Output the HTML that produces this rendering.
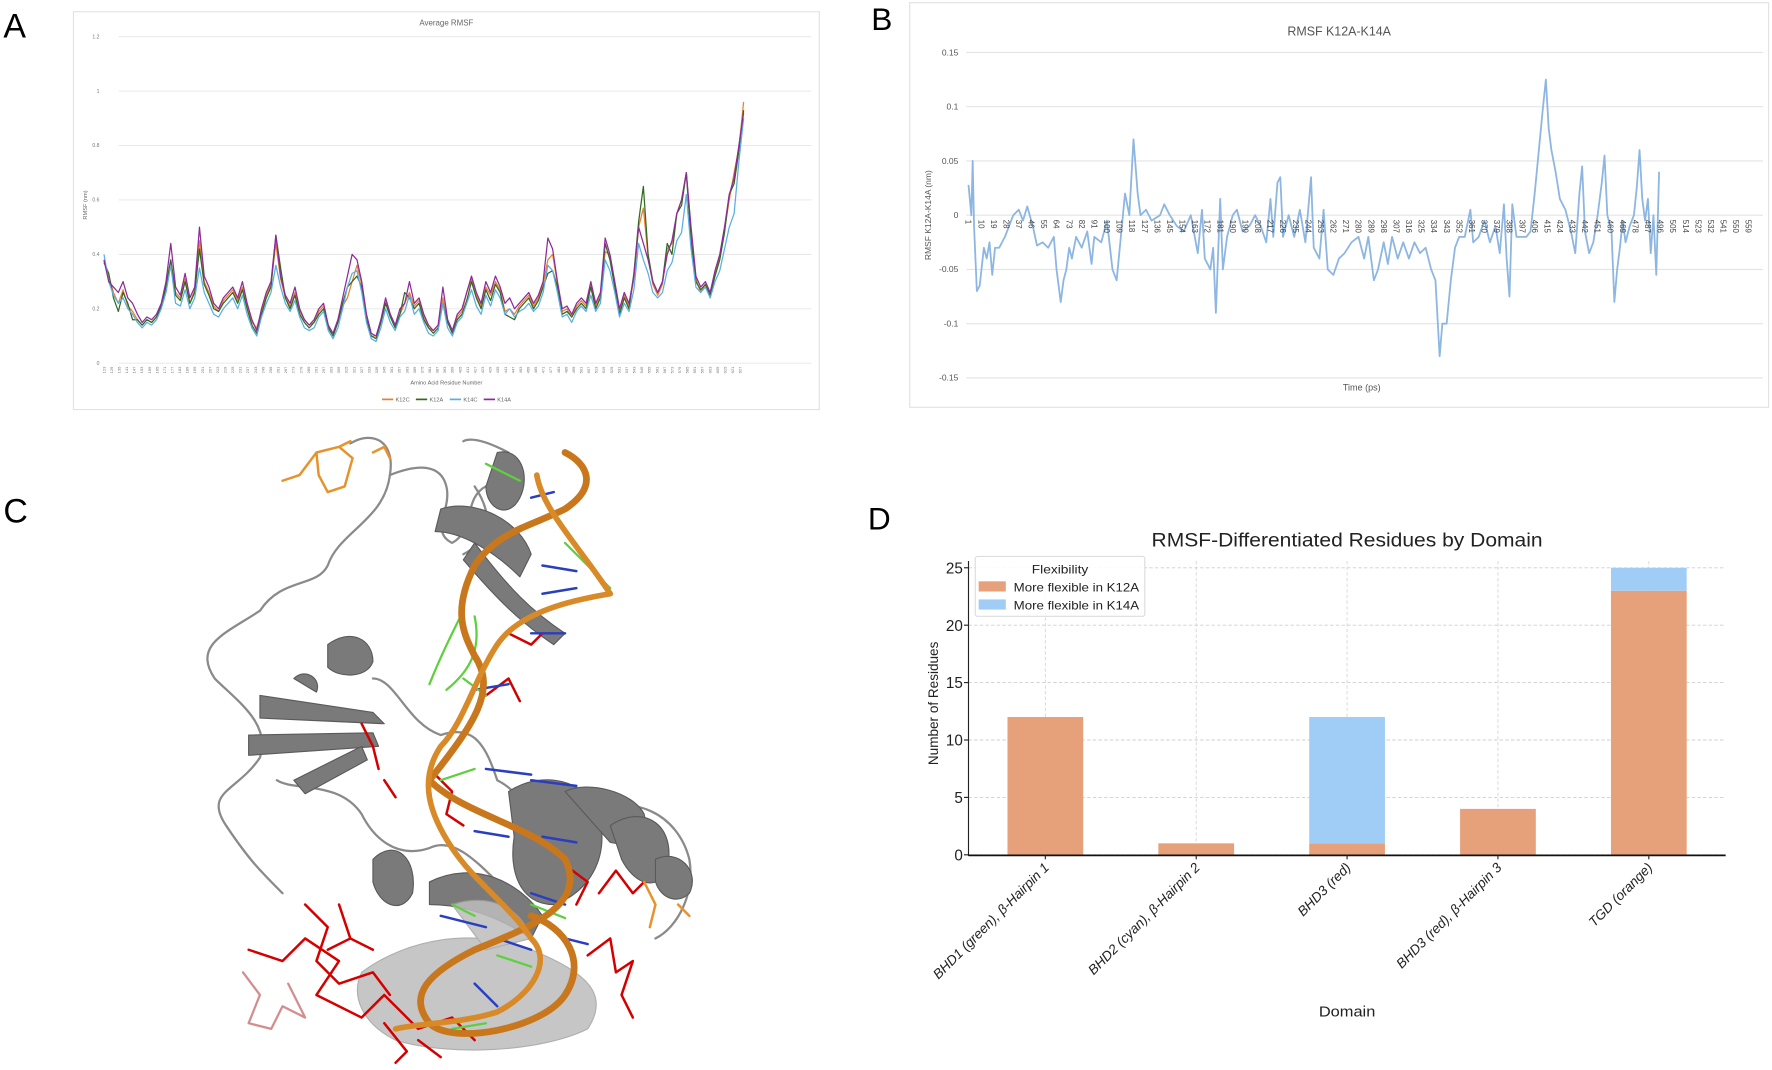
<!DOCTYPE html>
<html><head><meta charset="utf-8"><style>
html,body{margin:0;padding:0;background:#fff;}
svg{display:block;}
text{font-family:"Liberation Sans",sans-serif;}
</style></head><body>
<svg id="fig" width="1772" height="1070" viewBox="0 0 1568 946" xmlns="http://www.w3.org/2000/svg">
<rect width="1568" height="946" fill="#fff"/>
<text x="3" y="33" font-size="30">A</text>
<text x="771" y="26" font-size="28">B</text>
<text x="3" y="462" font-size="30">C</text>
<text x="768" y="468" font-size="28">D</text>

<g id="panelA">
<rect x="65" y="10" width="660" height="352" fill="#fff" stroke="#e2e2e2"/>
<text x="395" y="22" font-size="7" fill="#666" text-anchor="middle">Average RMSF</text>
<text transform="translate(77,181) rotate(-90)" font-size="5" fill="#666" text-anchor="middle">RMSF (nm)</text>
<text x="395" y="340" font-size="5" fill="#666" text-anchor="middle">Amino Acid Residue Number</text>
<g id="aGrid"></g><g id="aXt"></g><g id="aLines"></g>
<g font-size="5" fill="#666">
<line x1="338" y1="353" x2="348" y2="353" stroke="#ed7d31" stroke-width="1.5"/><text x="350" y="355">K12C</text>
<line x1="368" y1="353" x2="378" y2="353" stroke="#2e6b1f" stroke-width="1.5"/><text x="380" y="355">K12A</text>
<line x1="398" y1="353" x2="408" y2="353" stroke="#5aaee3" stroke-width="1.5"/><text x="410" y="355">K14C</text>
<line x1="428" y1="353" x2="438" y2="353" stroke="#8e2a9a" stroke-width="1.5"/><text x="440" y="355">K14A</text>
</g>
</g>

<g id="panelB">
<rect x="805" y="2" width="760" height="358" fill="#fff" stroke="#e2e2e2"/>
<text x="1185" y="31" font-size="11" fill="#555" text-anchor="middle">RMSF K12A-K14A</text>
<text transform="translate(824,190) rotate(-90)" font-size="7.5" fill="#555" text-anchor="middle">RMSF K12A-K14A (nm)</text>
<text x="1205" y="345" font-size="8" fill="#555" text-anchor="middle">Time (ps)</text>
<g id="bGrid"></g><g id="bLine"></g><g id="bXt"></g>
</g>

<g id="panelC" stroke-linecap="round" stroke-linejoin="round" fill="none">
<g stroke="#8a8a8a" stroke-width="2">
<path d="M310 392 C330 380 350 390 345 420 C340 460 300 470 290 500 C280 520 250 510 230 540 C200 560 170 570 190 600 C210 620 240 640 230 670 C210 700 180 700 200 730 C220 760 230 770 250 790"/>
<path d="M345 420 C370 410 390 410 395 430 C400 450 380 470 400 480 C420 470 410 440 430 430"/>
<path d="M330 600 C350 600 360 640 390 650 C420 640 430 660 440 690 C460 700 470 720 480 740"/>
<path d="M245 690 C260 700 300 690 320 720 C330 740 350 760 380 750 C400 740 420 760 440 780"/>
<path d="M410 390 C420 385 440 395 450 400 M420 430 C440 460 430 480 410 490"/>
<path d="M520 720 C560 700 600 720 610 760 C615 790 600 820 580 830"/>
</g>
<g fill="#7a7a7a" stroke="#5a5a5a" stroke-width="1">
<path d="M440 400 C460 395 470 420 460 440 C450 460 430 450 430 430 Z"/>
<path d="M390 450 C420 440 460 460 470 490 L460 510 C440 490 410 470 385 470 Z"/>
<path d="M420 480 C450 520 470 540 500 560 L490 570 C460 550 440 530 410 495 Z"/>
<path d="M230 615 L330 630 L340 640 L230 635 Z"/>
<path d="M220 650 L330 648 L335 660 L220 668 Z"/>
<path d="M260 690 L320 660 L325 672 L270 702 Z"/>
<path d="M290 570 C310 555 330 565 330 585 C325 600 300 600 290 590 Z"/>
<path d="M260 600 C270 590 285 600 280 612 Z"/>
<path d="M330 760 C350 740 370 760 365 790 C355 810 335 800 330 780 Z"/>
<path d="M450 700 C480 680 520 690 530 720 C540 760 520 790 490 800 C460 800 450 770 455 740 Z"/>
<path d="M500 700 C520 690 560 700 570 720 C575 740 560 750 540 745 Z"/>
<path d="M540 730 C570 710 600 730 590 770 C580 790 560 780 550 760 Z"/>
<path d="M580 760 C600 750 620 770 610 790 C600 800 585 795 580 780 Z"/>
<path d="M380 780 C420 760 460 780 480 810 L470 830 C440 810 410 800 380 800 Z"/>
</g>
<g fill="#bdbdbd" stroke="#a0a0a0" stroke-width="1" opacity="0.85">
<path d="M320 860 C360 830 420 820 470 840 C520 860 540 880 520 910 C480 930 400 935 350 920 C320 905 310 880 320 860 Z"/>
<path d="M400 800 C430 790 460 800 470 830 L430 840 Z"/>
</g>
<g stroke="#d40000" stroke-width="2.2">
<path d="M220 840 L250 850 L270 830 L300 850 L280 880 L320 900 L340 880 L370 910 L400 900 L420 920"/>
<path d="M270 800 L290 820 L280 850 L300 870 L330 860 L345 880"/>
<path d="M300 800 L310 830 L330 840 M310 830 L290 840"/>
<path d="M340 905 L360 930 L350 940 M370 920 L390 935"/>
<path d="M520 845 L540 830 L545 860 L560 850 L550 880 L560 900 M530 790 L545 770 L560 790 L570 780"/>
<path d="M500 765 L520 780 L510 800 M320 640 L330 660 L335 680 M340 690 L350 705 M430 615 L450 600 L460 620 M450 560 L470 570 L480 560"/>
<path d="M380 680 L400 700 L395 720 L410 730"/>
</g>
<g stroke="#c87070" stroke-width="2" opacity="0.8"><path d="M215 860 L230 880 L220 905 L240 910 L250 890 L270 900 L255 870"/></g>
<g stroke="#e8922c" stroke-width="2.2">
<path d="M280 400 L300 395 L312 405 L305 430 L290 435 L282 420 Z M280 400 L265 420 L250 425 M300 395 L310 390"/>
<path d="M330 400 L340 395 L345 405"/>
<path d="M570 780 L580 800 L575 820 M600 800 L610 810"/>
</g>
<g stroke="#2a3fbf" stroke-width="2.2">
<path d="M470 440 L490 435 M480 500 L510 505 M480 525 L510 520 M470 560 L500 560 M420 610 L450 605 M430 680 L470 685 M470 690 L510 695 M420 735 L450 740 M480 740 L510 745 M470 790 L500 800 M440 830 L470 840 M500 830 L520 835 M390 810 L430 820 M420 870 L440 890"/>
</g>
<g stroke="#5fcf3f" stroke-width="2">
<path d="M430 410 L460 425 M500 480 L540 520 M410 600 L430 615 M390 690 L420 680 M400 800 L420 810 M470 800 L500 812 M440 845 L470 855 M400 910 L430 905"/>
<path d="M410 540 C400 560 390 580 380 605 M420 545 C425 570 420 590 395 610"/>
</g>
<path d="M500 400 C520 410 530 430 500 450 C470 465 440 470 420 500 C400 540 410 560 420 580 C440 610 420 640 380 690 C410 720 470 730 500 760 C520 800 470 820 420 840 C380 860 360 880 380 905 C400 925 480 910 500 880 C520 850 500 820 470 810" stroke="#c9771c" stroke-width="6"/>
<path d="M475 420 C480 450 510 480 540 525 C510 530 460 540 440 570 C420 600 410 640 390 660 C370 690 380 720 400 750 C420 780 450 800 470 830 C490 850 470 880 440 895 C410 905 370 905 350 910" stroke="#d88a28" stroke-width="5"/>
</g>

<g id="panelD">
<text x="1192" y="483" font-size="17" fill="#222" text-anchor="middle" textLength="346" lengthAdjust="spacingAndGlyphs">RMSF-Differentiated Residues by Domain</text>
<g id="dGrid"></g><g id="dBars"></g>
<line x1="857" y1="496" x2="857" y2="757" stroke="#222" stroke-width="1"/>
<line x1="857" y1="756.5" x2="1527" y2="756.5" stroke="#111" stroke-width="1.5"/>
<g id="dTicks"></g>
<text transform="translate(830,622) rotate(-90)" font-size="12" fill="#222" text-anchor="middle" font-family="DejaVu Sans, sans-serif">Number of Residues</text>
<text x="1192" y="899" font-size="13" fill="#222" text-anchor="middle" textLength="50" lengthAdjust="spacingAndGlyphs">Domain</text>
<g>
<rect x="863" y="492" width="150" height="53" rx="2" fill="#fff" fill-opacity="0.85" stroke="#ddd"/>
<text x="938" y="507" font-size="10.5" fill="#222" text-anchor="middle" textLength="50" lengthAdjust="spacingAndGlyphs">Flexibility</text>
<rect x="866" y="514" width="24" height="9" fill="#e6a07a"/>
<text x="897" y="523" font-size="10.5" fill="#222" textLength="111" lengthAdjust="spacingAndGlyphs">More flexible in K12A</text>
<rect x="866" y="530" width="24" height="9" fill="#9fcdf5"/>
<text x="897" y="539" font-size="10.5" fill="#222" textLength="111" lengthAdjust="spacingAndGlyphs">More flexible in K14A</text>
</g>
</g>
</svg>
<script>
const NS='http://www.w3.org/2000/svg';
// ---- Panel A data ----
const aYTicks=[0,0.2,0.4,0.6,0.8,1,1.2];
const aResStart=123, aResStep=6, aResEnd=627;
const k14a=[0.38,0.30,0.28,0.26,0.30,0.24,0.22,0.18,0.15,0.17,0.16,0.18,0.22,0.30,0.44,0.28,0.25,0.33,0.24,0.28,0.50,0.32,0.28,0.22,0.20,0.24,0.26,0.28,0.24,0.30,0.22,0.16,0.12,0.20,0.26,0.30,0.47,0.32,0.25,0.22,0.28,0.20,0.16,0.14,0.16,0.20,0.22,0.14,0.11,0.16,0.24,0.32,0.40,0.38,0.30,0.18,0.11,0.10,0.16,0.24,0.18,0.14,0.20,0.22,0.30,0.22,0.24,0.18,0.14,0.12,0.14,0.28,0.16,0.12,0.18,0.20,0.26,0.32,0.26,0.22,0.30,0.26,0.32,0.28,0.22,0.24,0.20,0.22,0.24,0.26,0.22,0.25,0.30,0.46,0.42,0.30,0.20,0.21,0.18,0.22,0.24,0.22,0.30,0.22,0.26,0.46,0.40,0.30,0.20,0.26,0.22,0.32,0.50,0.44,0.38,0.30,0.26,0.30,0.40,0.45,0.55,0.60,0.70,0.50,0.32,0.28,0.30,0.26,0.34,0.40,0.50,0.62,0.68,0.80,0.92];
const k14c=[0.40,0.30,0.25,0.22,0.24,0.20,0.18,0.15,0.13,0.15,0.14,0.16,0.20,0.26,0.36,0.22,0.21,0.27,0.20,0.24,0.35,0.26,0.22,0.18,0.17,0.20,0.22,0.24,0.20,0.25,0.18,0.13,0.10,0.17,0.22,0.26,0.36,0.28,0.22,0.19,0.23,0.17,0.13,0.12,0.13,0.17,0.19,0.12,0.09,0.13,0.20,0.28,0.33,0.34,0.26,0.15,0.09,0.08,0.13,0.20,0.15,0.12,0.17,0.19,0.25,0.18,0.20,0.15,0.11,0.10,0.12,0.22,0.13,0.10,0.15,0.17,0.22,0.27,0.21,0.18,0.25,0.21,0.27,0.24,0.18,0.20,0.17,0.19,0.20,0.22,0.19,0.21,0.26,0.36,0.34,0.26,0.17,0.18,0.15,0.19,0.21,0.19,0.25,0.19,0.22,0.38,0.34,0.26,0.17,0.22,0.19,0.27,0.44,0.38,0.33,0.26,0.24,0.26,0.34,0.37,0.45,0.48,0.62,0.42,0.28,0.26,0.28,0.24,0.30,0.34,0.42,0.50,0.55,0.74,0.90];
const k12a=[0.37,0.33,0.24,0.19,0.26,0.22,0.16,0.16,0.14,0.16,0.15,0.17,0.21,0.28,0.38,0.25,0.23,0.30,0.22,0.26,0.42,0.29,0.25,0.20,0.19,0.22,0.24,0.26,0.22,0.27,0.20,0.14,0.11,0.18,0.24,0.28,0.47,0.35,0.24,0.20,0.25,0.18,0.15,0.13,0.15,0.18,0.20,0.13,0.10,0.15,0.22,0.28,0.30,0.32,0.28,0.16,0.10,0.09,0.15,0.22,0.17,0.13,0.18,0.26,0.24,0.20,0.22,0.16,0.13,0.11,0.13,0.22,0.15,0.11,0.16,0.18,0.23,0.30,0.24,0.20,0.27,0.23,0.29,0.26,0.18,0.17,0.16,0.20,0.22,0.24,0.20,0.23,0.28,0.33,0.34,0.28,0.18,0.19,0.17,0.20,0.22,0.20,0.28,0.20,0.24,0.44,0.38,0.28,0.18,0.24,0.20,0.33,0.52,0.65,0.40,0.30,0.26,0.30,0.44,0.40,0.55,0.58,0.70,0.45,0.30,0.27,0.29,0.25,0.32,0.38,0.48,0.62,0.66,0.78,0.93];
const k12c=[0.38,0.32,0.26,0.22,0.27,0.21,0.19,0.16,0.14,0.16,0.15,0.17,0.21,0.29,0.38,0.26,0.24,0.31,0.22,0.27,0.45,0.30,0.26,0.21,0.19,0.23,0.25,0.27,0.23,0.28,0.21,0.15,0.13,0.19,0.25,0.29,0.44,0.31,0.24,0.21,0.26,0.19,0.16,0.14,0.15,0.19,0.21,0.13,0.11,0.16,0.21,0.24,0.30,0.36,0.29,0.17,0.10,0.10,0.15,0.23,0.17,0.14,0.18,0.22,0.26,0.21,0.23,0.17,0.13,0.12,0.14,0.24,0.16,0.12,0.17,0.19,0.26,0.31,0.25,0.21,0.28,0.25,0.30,0.27,0.19,0.20,0.18,0.21,0.23,0.25,0.21,0.24,0.29,0.38,0.40,0.29,0.19,0.20,0.17,0.21,0.23,0.21,0.29,0.21,0.25,0.41,0.40,0.29,0.19,0.25,0.21,0.31,0.50,0.57,0.39,0.29,0.25,0.29,0.42,0.44,0.55,0.60,0.70,0.48,0.31,0.26,0.29,0.24,0.33,0.39,0.49,0.60,0.70,0.79,0.96];
// ---- Panel B data ----
const bYTicks=[-0.15,-0.1,-0.05,0,0.05,0.1,0.15];
const bCatStart=1, bCatStep=9, bCatEnd=559;
const bIdx=[1,3,4,5,7,9,12,14,16,18,20,23,27,30,33,37,40,43,47,50,54,58,62,64,67,69,71,73,75,78,82,86,89,91,96,100,104,107,110,113,116,119,122,124,128,132,138,141,145,150,155,160,165,168,170,174,176,178,181,183,186,190,193,197,202,206,210,214,217,219,222,224,226,230,234,238,242,246,248,252,255,258,262,266,270,275,280,284,287,291,294,298,301,304,308,312,316,320,324,328,332,335,338,340,343,346,349,352,356,360,362,366,370,374,378,381,384,386,388,390,393,397,400,403,406,409,412,414,416,418,421,424,428,432,435,438,440,442,445,448,451,454,456,458,461,463,465,467,469,471,474,477,479,481,483,485,487,489,491,493,495];
const bVal=[0.028,0.0,0.05,-0.01,-0.07,-0.065,-0.03,-0.04,-0.025,-0.055,-0.03,-0.03,-0.02,-0.01,0.0,0.005,-0.005,0.008,-0.01,-0.028,-0.025,-0.03,-0.02,-0.05,-0.08,-0.06,-0.05,-0.03,-0.04,-0.02,-0.03,-0.015,-0.045,-0.02,-0.025,-0.005,-0.05,-0.06,-0.02,0.02,0.0,0.07,0.02,0.0,0.005,-0.005,0.0,0.01,0.0,-0.01,-0.015,0.0,-0.035,0.005,-0.04,-0.05,-0.03,-0.09,0.015,-0.05,-0.02,0.0,0.005,-0.015,-0.01,0.0,-0.01,-0.025,0.015,-0.02,0.03,0.035,-0.02,0.0,-0.02,0.005,-0.025,0.035,-0.03,-0.04,0.005,-0.05,-0.055,-0.04,-0.035,-0.025,-0.02,-0.04,-0.02,-0.06,-0.05,-0.025,-0.045,-0.02,-0.04,-0.025,-0.04,-0.025,-0.035,-0.03,-0.05,-0.06,-0.13,-0.1,-0.1,-0.06,-0.03,-0.02,-0.02,0.005,-0.025,-0.02,-0.005,-0.025,-0.01,-0.035,0.01,-0.04,-0.075,0.01,-0.02,-0.02,-0.02,-0.015,0.02,0.06,0.1,0.125,0.08,0.06,0.04,0.015,0.005,-0.015,-0.035,0.02,0.045,-0.015,-0.035,-0.025,0.0,0.03,0.055,0.0,-0.015,-0.08,-0.05,-0.03,-0.005,-0.025,-0.01,0.0,0.025,0.06,0.015,-0.005,0.015,-0.035,0.0,-0.055,0.04];
// ---- Panel D data ----
const dCats=['BHD1 (green), β-Hairpin 1','BHD2 (cyan), β-Hairpin 2','BHD3 (red)','BHD3 (red), β-Hairpin 3','TGD (orange)'];
const dK12A=[12,1,1,4,23];
const dK14A=[0,0,11,0,2];
const dYTicks=[0,5,10,15,20,25];

function mk(tag,attrs,parent,txt){const e=document.createElementNS(NS,tag);for(const k in attrs)e.setAttribute(k,attrs[k]);if(txt!==undefined)e.textContent=txt;parent.appendChild(e);return e;}

// Panel A
const aY=v=>321-v*240.8;
const aX=(i,n)=>92+i*(658-92)/(n-1);
const aGrid=document.getElementById('aGrid');
aYTicks.forEach(t=>{
 const l=mk('line',{x1:105,x2:718,y1:aY(t),y2:aY(t),stroke:'#e6e6e6','stroke-width':0.8},aGrid);
 
 
 const tx=mk('text',{x:88,y:aY(t)+1.5,'font-size':4.5,fill:'#777','text-anchor':'end'},aGrid,String(t));
 
 
});
const aXt=document.getElementById('aXt');
const nRes=Math.floor((aResEnd-aResStart)/aResStep)+1;
for(let k=0;k<nRes;k++){
 const r=aResStart+k*aResStep;const x=92+k*(655-92)/(nRes-1);
 const tx=mk('text',{transform:`translate(${x+1.2},324) rotate(-90)`,'font-size':3.6,fill:'#777','text-anchor':'end'},aXt,String(r));
 
 
}
const aLines=document.getElementById('aLines');
[[k12c,'#ed7d31','k12c'],[k12a,'#2e6b1f','k12a'],[k14c,'#5aaee3','k14c'],[k14a,'#8e2a9a','k14a']].forEach(([arr,c,nm])=>{
 const d=arr.map((v,i)=>(i?'L':'M')+aX(i,arr.length).toFixed(1)+' '+aY(v).toFixed(1)).join(' ');
 const p=mk('path',{d:d,fill:'none',stroke:c,'stroke-width':1.1,'stroke-linejoin':'round'},aLines);
 
 
});

// Panel B
const bY=v=>190-v*960;
const bX=i=>857+(i-1)*1.237;
const bGrid=document.getElementById('bGrid');
bYTicks.forEach(t=>{
 const l=mk('line',{x1:855,x2:1560,y1:bY(t),y2:bY(t),stroke:'#e4e4e4','stroke-width':1},bGrid);
 
 
 const tx=mk('text',{x:848,y:bY(t)+2.5,'font-size':7.5,fill:'#555','text-anchor':'end'},bGrid,t===0?'0':String(t));
 
 
});
const bl=mk('path',{d:bIdx.map((ix,i)=>(i?'L':'M')+bX(ix).toFixed(1)+' '+bY(bVal[i]).toFixed(1)).join(' '),fill:'none',stroke:'#8db7e2','stroke-width':1.6,'stroke-linejoin':'round'},document.getElementById('bLine'));


const bXt=document.getElementById('bXt');
for(let c=bCatStart;c<=bCatEnd;c+=bCatStep){
 const tx=mk('text',{transform:`translate(${bX(c)-2.5},194) rotate(90)`,'font-size':7,fill:'#444','font-family':'DejaVu Sans, sans-serif'},bXt,String(c));
 
 
}

// Panel D
const dY=v=>756-v*10.16;
const dX=i=>925+i*133.5;
const dGrid=document.getElementById('dGrid');
dYTicks.forEach(t=>{
 const l=mk('line',{x1:857,x2:1527,y1:dY(t),y2:dY(t),stroke:'#cfcfcf','stroke-width':0.8,'stroke-dasharray':'3,2'},dGrid);
 
 
});
dCats.forEach((c,i)=>{
 const l=mk('line',{x1:dX(i),x2:dX(i),y1:496,y2:756,stroke:'#d6d6d6','stroke-width':0.8,'stroke-dasharray':'3,2'},dGrid);
 
 
});
const dBars=document.getElementById('dBars');
dCats.forEach((c,i)=>{
 const w=67;
 const r1=mk('rect',{x:dX(i)-w/2,y:dY(dK12A[i]),width:w,height:dY(0)-dY(dK12A[i]),fill:'#e6a07a'},dBars);
 
 
 if(dK14A[i]>0){
  const r2=mk('rect',{x:dX(i)-w/2,y:dY(dK12A[i]+dK14A[i]),width:w,height:dY(dK12A[i])-dY(dK12A[i]+dK14A[i]),fill:'#9fcdf5'},dBars);
  
  
 }
});
const dTicks=document.getElementById('dTicks');
dYTicks.forEach(t=>{
 mk('line',{x1:853,x2:857,y1:dY(t),y2:dY(t),stroke:'#222'},dTicks);
 const tx=mk('text',{x:852,y:dY(t)+5,'font-size':14,fill:'#222','text-anchor':'end',textLength:String(t).length*7.5,lengthAdjust:'spacingAndGlyphs'},dTicks,String(t));
 
 
});
dCats.forEach((c,i)=>{
 mk('line',{x1:dX(i),x2:dX(i),y1:756,y2:760,stroke:'#222'},dTicks);
 const tx=mk('text',{transform:`translate(${dX(i)+4},768) rotate(-45)`,'font-size':12,'font-style':'italic',fill:'#222','text-anchor':'end','font-family':'DejaVu Sans, sans-serif'},dTicks,c);
 
 
});
</script>
</body></html>
